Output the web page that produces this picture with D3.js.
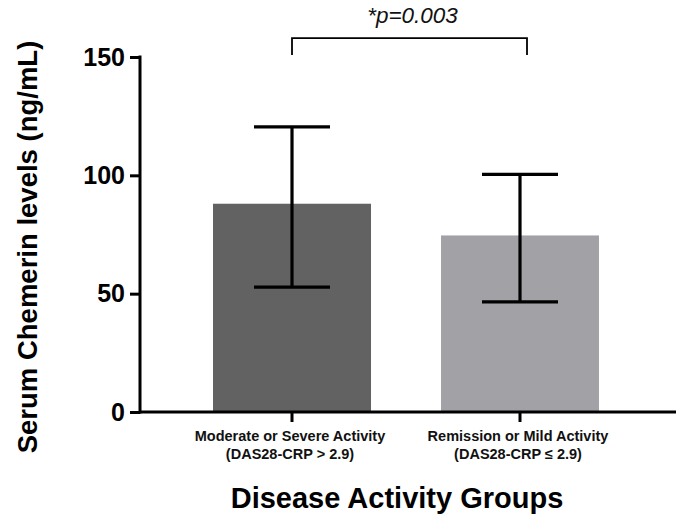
<!DOCTYPE html>
<html>
<head>
<meta charset="utf-8">
<script src="https://cdn.jsdelivr.net/npm/d3@7"></script>
<style>
  html, body { margin: 0; padding: 0; background: #fff; }
  svg { display: block; font-family: "Liberation Sans", Arial, sans-serif; }
</style>
</head>
<body>
<svg id="chart" width="680" height="518"></svg>
<script>
const categories = ["Moderate or Severe Activity", "Remission or Mild Activity"];
const subLabels = ["(DAS28-CRP > 2.9)", "(DAS28-CRP \u2264 2.9)"];
const means = [88, 74.6];
const errLow = [52.8, 46.5];
const errHigh = [120.5, 100.4];
const yTicks = [0, 50, 100, 150];
const barColors = ["#626262", "#a2a1a6"];
const pLabel = "*p=0.003";
const bracketLevel = 158;
const bracketDrop = 150.8;

const svg = d3.select("#chart");
const axisX = 140, axisRight = 676;

const y = d3.scaleLinear().domain([0, 150]).range([412, 57]);
const x = d3.scaleBand().domain(categories).range([144.6, 667.4])
  .paddingInner(0.307).paddingOuter(0.3);

// bars
svg.selectAll("rect.bar").data(categories).join("rect")
  .attr("class", "bar")
  .attr("x", d => x(d))
  .attr("width", x.bandwidth())
  .attr("y", (d, i) => y(means[i]))
  .attr("height", (d, i) => y(0) - y(means[i]))
  .attr("fill", (d, i) => barColors[i]);

// error bars
const capW = 76;
const eg = svg.append("g").attr("stroke", "#000").attr("stroke-width", 3.2);
categories.forEach((c, i) => {
  const cx = x(c) + x.bandwidth() / 2;
  eg.append("line").attr("x1", cx).attr("x2", cx).attr("y1", y(errHigh[i])).attr("y2", y(errLow[i]));
  eg.append("line").attr("x1", cx - capW / 2).attr("x2", cx + capW / 2).attr("y1", y(errHigh[i])).attr("y2", y(errHigh[i]));
  eg.append("line").attr("x1", cx - capW / 2).attr("x2", cx + capW / 2).attr("y1", y(errLow[i])).attr("y2", y(errLow[i]));
});

// y axis
const yAxis = svg.append("g").attr("transform", `translate(${axisX},0)`)
  .call(d3.axisLeft(y).tickValues(yTicks).tickSize(10).tickSizeOuter(0).tickPadding(5));
yAxis.select(".domain").remove();
yAxis.selectAll(".tick line").attr("stroke", "#000").attr("stroke-width", 3);
yAxis.selectAll(".tick text").attr("font-size", 25).attr("font-weight", "bold")
  .attr("fill", "#000").attr("font-family", "Liberation Sans, Arial, sans-serif");
svg.append("line").attr("x1", axisX).attr("x2", axisX).attr("y1", y(150) - 1.5).attr("y2", y(0) + 1.5)
  .attr("stroke", "#000").attr("stroke-width", 3);

// x axis line & ticks
svg.append("line").attr("x1", axisX).attr("x2", axisRight).attr("y1", y(0)).attr("y2", y(0))
  .attr("stroke", "#000").attr("stroke-width", 3);
categories.forEach((c, i) => {
  const cx = x(c) + x.bandwidth() / 2;
  svg.append("line").attr("x1", cx).attr("x2", cx).attr("y1", y(0)).attr("y2", y(0) + 10)
    .attr("stroke", "#000").attr("stroke-width", 3);
  svg.append("text").attr("x", cx - 2).attr("y", 441).attr("text-anchor", "middle")
    .attr("font-size", 14.5).attr("font-weight", "bold").attr("fill", "#111").text(c);
  svg.append("text").attr("x", cx - 2).attr("y", 459).attr("text-anchor", "middle")
    .attr("font-size", 14.5).attr("font-weight", "bold").attr("fill", "#111").text(subLabels[i]);
});

// significance bracket
const bx1 = x(categories[0]) + x.bandwidth() / 2;
const bx2 = x(categories[1]) + x.bandwidth() / 2 + 7;
svg.append("path")
  .attr("d", `M${bx1},${y(bracketDrop)}V${y(bracketLevel)}H${bx2}V${y(bracketDrop)}`)
  .attr("fill", "none").attr("stroke", "#000").attr("stroke-width", 1.8);
svg.append("text").attr("x", (bx1 + bx2) / 2 + 3).attr("y", 23).attr("text-anchor", "middle")
  .attr("font-size", 22.5).attr("font-style", "italic").attr("fill", "#111").text(pLabel);

// axis titles
svg.append("text").attr("x", 397).attr("y", 508).attr("text-anchor", "middle")
  .attr("font-size", 29).attr("font-weight", "bold").attr("fill", "#000").text("Disease Activity Groups");
svg.append("text").attr("transform", "translate(37,247) rotate(-90)").attr("text-anchor", "middle")
  .attr("font-size", 27.5).attr("font-weight", "bold").attr("fill", "#000").text("Serum Chemerin levels (ng/mL)");
</script>
</body>
</html>
